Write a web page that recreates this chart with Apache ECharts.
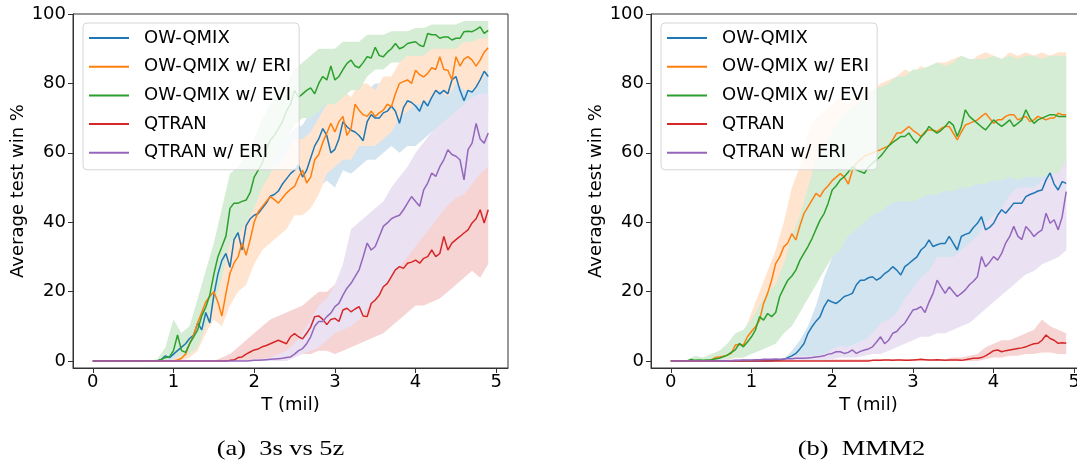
<!DOCTYPE html>
<html>
<head>
<meta charset="utf-8">
<title>Average test win %</title>
<script src="https://cdn.jsdelivr.net/npm/echarts@6.0.0/dist/echarts.min.js"></script>
<style>
  html, body { margin: 0; padding: 0; background: #fff; }
  #chart { width: 1077px; height: 465px; }
</style>
</head>
<body>
<div id="chart"></div>
<script>
(function () {
  var NAMES = ['OW-QMIX', 'OW-QMIX w/ ERI', 'OW-QMIX w/ EVI', 'QTRAN', 'QTRAN w/ ERI'];
  var COLORS = ['#1f77b4', '#ff7f0e', '#2ca02c', '#d62728', '#9467bd'];
  // same hues at 20% on white, painted opaque so later bands cover earlier ones
  var BAND_COLORS = ['#d2e4f0', '#ffe5cf', '#d5ecd5', '#f7d4d4', '#eae1f2'];
  var X_TICKS = [0, 1, 2, 3, 4, 5];
  var Y_TICKS = [0, 20, 40, 60, 80, 100];
  var CAPTIONS = ['(a)  3s vs 5z', '(b)  MMM2'];

  // T (mil) sample grids: means every 0.05, shaded bands every 0.1
  var tMean = [];
  var tBand = [];
  for (var i = 0; i < 99; i++) tMean.push(+(i * 0.05).toFixed(2));
  for (var j = 0; j < 50; j++) tBand.push(+(j * 0.1).toFixed(1));

  // (a) 3s vs 5z
  var a_owqmix = [
    0, 0, 0, 0, 0, 0, 0, 0, 0, 0,
    0, 0, 0, 0, 0, 0, 0, 0.5, 1.5, 1.0,
    2, 3, 4, 5, 6.5, 7.5, 11, 9, 14, 11,
    19, 25, 29, 31, 27, 35, 37, 32, 39, 41,
    42, 42.5, 44, 45.5, 47.5, 48, 49, 51, 52.5, 54,
    55, 56.5, 53, 55, 58.5, 62, 64, 67, 65, 60,
    61, 64, 69, 67.5, 66.5, 66, 65, 63.5, 69, 71,
    70, 70, 71.5, 72, 73.5, 72, 68.5, 73, 75, 74.5,
    73.5, 72, 75, 73.5, 76, 78, 77, 78, 77, 81,
    82, 78, 75, 78, 77.5, 79, 81, 83.5, 82
  ];
  var a_owqmixEri = [
    0, 0, 0, 0, 0, 0, 0, 0, 0, 0,
    0, 0, 0, 0, 0, 0, 0, 0, 0, 0,
    0, 0.3, 0.8, 2, 5, 7.5, 11, 14, 17, 18.6,
    20, 17, 13, 19.5, 25.3, 28.2, 30, 34, 30.5, 35,
    40, 43, 44.5, 46, 47.4, 46.5, 45.5, 47, 48.4, 49.5,
    50.3, 53, 55, 51.3, 53, 58, 59.5, 63, 65.7, 68.5,
    66, 69, 70.5, 65, 67, 74, 72.3, 71, 70.5, 72,
    70.5, 71.5, 72.3, 74, 73.3, 77, 80, 80.5, 81, 80,
    83.8, 82.5, 81.9, 82.9, 84.5, 84, 87.7, 84, 83.8, 81,
    87.7, 85, 87, 87.7, 86.7, 85, 86.7, 89, 90.3
  ];
  var a_owqmixEvi = [
    0, 0, 0, 0, 0, 0, 0, 0, 0, 0,
    0, 0, 0, 0, 0, 0, 0, 0.5, 1, 1.2,
    3, 7.5, 3, 2.5, 5, 7, 9, 13, 15.5, 19,
    25, 30, 33, 36, 44, 45.5, 45.5, 46, 46.4, 48.5,
    53, 55, 57, 61, 63.7, 65, 67, 69, 72, 74,
    78, 76, 77, 78, 78.7, 77, 80, 82, 81, 85,
    81, 82, 84, 85.8, 86.7, 85, 84.5, 86, 87.7, 87.3,
    90.4, 88, 87.7, 89, 90, 91.5, 90, 90.5, 91.5, 91.8,
    92, 91, 90.6, 94.4, 94, 94, 93, 93.4, 93.4, 92.5,
    93, 93, 94.9, 95, 94.9, 95.5, 96.3, 94.4, 95.3
  ];
  var a_qtran = [
    0, 0, 0, 0, 0, 0, 0, 0, 0, 0,
    0, 0, 0, 0, 0, 0, 0, 0, 0, 0,
    0, 0, 0, 0, 0, 0, 0, 0, 0, 0,
    0, 0, 0, 0, 0.2, 0.3, 1, 1.2, 2, 2.6,
    3.2, 3.5, 4.1, 4.5, 5, 5.5, 6, 5.5, 5, 7,
    7.9, 7, 6.4, 8, 9.8, 12.8, 13, 12, 10.5, 12,
    12.3, 11.4, 14.7, 15.2, 14.2, 15, 15.7, 13, 12.8, 16.6,
    17.6, 19, 21.4, 22.4, 24.3, 26.3, 27.2, 26.7, 28.2, 28.5,
    29.1, 28.2, 29.6, 30.1, 32, 30.1, 31, 35.9, 32, 34,
    35, 35.9, 36.9, 37.8, 39.8, 41, 43.6, 39.8, 43.6
  ];
  var a_qtranEri = [
    0, 0, 0, 0, 0, 0, 0, 0, 0, 0,
    0, 0, 0, 0, 0, 0, 0, 0, 0, 0,
    0, 0, 0, 0, 0, 0, 0, 0, 0, 0,
    0, 0, 0, 0, 0, 0, 0, 0, 0, 0.1,
    0.2, 0.2, 0.3, 0.4, 0.5, 0.6, 0.7, 0.8, 1, 1.2,
    2, 3, 3.6, 5, 7, 10, 11.4, 11.4, 12.8, 13.8,
    15.7, 16.6, 19, 21, 22.4, 24.3, 26.3, 30, 34, 32,
    33, 35.9, 38.8, 39.8, 41, 41.6, 42, 43.6, 45.5, 47.4,
    46, 44.6, 49.3, 51.3, 54.2, 53.2, 56, 58, 60.9, 59.5,
    59, 58, 52.2, 60.9, 62.8, 68.5, 64, 62.8, 65.7
  ];

  var a_owqmixLo = [
    0, 0, 0, 0, 0, 0, 0, 0, 0, 0,
    0, 1, 3, 5, 8, 14, 20, 24, 28, 32,
    36, 38, 40, 42, 44, 46, 45, 48, 50, 52,
    50, 55, 54, 56, 58, 58, 60, 62, 60, 62,
    62, 64, 66, 64, 66, 68, 64, 66, 70, 72
  ];
  var a_owqmixHi = [
    0, 0, 0, 0, 0, 0, 0, 0, 0.5, 2,
    5, 8, 10, 14, 18, 28, 34, 40, 44, 48,
    50, 54, 56, 60, 64, 67, 68, 72, 74, 76,
    76, 78, 76, 76, 78, 80, 80, 82, 80, 84,
    82, 84, 86, 86, 88, 90, 86, 88, 90, 90
  ];
  var a_owqmixEriLo = [
    0, 0, 0, 0, 0, 0, 0, 0, 0, 0,
    0, 0, 1, 3, 8, 12, 10, 16, 20, 22,
    28, 32, 34, 36, 38, 42, 42, 44, 48, 54,
    56, 58, 58, 62, 62, 62, 64, 66, 70, 72,
    74, 74, 76, 78, 76, 80, 78, 78, 80, 84
  ];
  var a_owqmixEriHi = [
    0, 0, 0, 0, 0, 0, 0, 0, 0, 0,
    0.5, 2, 6, 12, 20, 26, 28, 36, 40, 42,
    46, 52, 56, 56, 60, 64, 64, 66, 70, 74,
    76, 78, 76, 80, 80, 78, 82, 82, 86, 88,
    90, 90, 90, 92, 90, 94, 94, 92, 94, 96
  ];
  var a_owqmixEviLo = [
    0, 0, 0, 0, 0, 0, 0, 0, 0, 0,
    2, 1, 2, 4, 10, 16, 24, 34, 36, 40,
    44, 50, 54, 60, 64, 68, 70, 70, 72, 74,
    74, 76, 78, 78, 82, 84, 84, 86, 86, 88,
    88, 88, 90, 90, 90, 90, 92, 92, 93, 93
  ];
  var a_owqmixEviHi = [
    0, 0, 0, 0, 0, 0, 0, 0, 0.5, 4,
    12, 8, 10, 18, 26, 34, 44, 54, 56, 60,
    64, 70, 74, 78, 80, 84, 86, 88, 90, 90,
    90, 92, 92, 92, 94, 94, 94, 95, 95, 95,
    96, 96, 97, 97, 97, 97, 98, 98, 98, 98
  ];
  var a_qtranLo = [
    0, 0, 0, 0, 0, 0, 0, 0, 0, 0,
    0, 0, 0, 0, 0, 0, 0, 0, 0, 0,
    0, 0, 1, 1, 1, 2, 2, 2, 3, 3,
    2, 3, 4, 5, 6, 7, 8, 10, 12, 14,
    16, 16, 17, 18, 20, 22, 24, 26, 24, 28
  ];
  var a_qtranHi = [
    0, 0, 0, 0, 0, 0, 0, 0, 0, 0,
    0, 0, 0, 0, 0, 0, 1, 2, 4, 6,
    8, 10, 12, 13, 14, 15, 16, 18, 20, 20,
    22, 26, 28, 30, 32, 36, 36, 38, 40, 40,
    42, 44, 46, 46, 48, 50, 52, 54, 56, 58
  ];
  var a_qtranEriLo = [
    0, 0, 0, 0, 0, 0, 0, 0, 0, 0,
    0, 0, 0, 0, 0, 0, 0, 0, 0, 0,
    0, 0, 0, 0, 0, 1, 2, 3, 4, 6,
    8, 9, 10, 12, 15, 18, 21, 24, 27, 30,
    33, 36, 39, 42, 45, 47, 48, 51, 54, 56
  ];
  var a_qtranEriHi = [
    0, 0, 0, 0, 0, 0, 0, 0, 0, 0,
    0, 0, 0, 0, 0, 0, 0, 0, 0, 0,
    0.5, 0.5, 1, 2, 3, 5, 8, 12, 16, 18,
    22, 28, 38, 40, 42, 44, 46, 50, 53, 56,
    60, 63, 66, 68, 70, 72, 74, 76, 77, 77
  ];

  // (b) MMM2
  var b_owqmix = [
    0, 0, 0, 0, 0, 0, 0, 0, 0, 0,
    0, 0, 0, 0, 0, 0, 0, 0, 0, 0,
    0, 0, 0, 0, 0, 0.1, 0.2, 0.3, 0.5, 1,
    1.5, 2.2, 3.5, 5, 8, 9.9, 11.5, 12.8, 15.7, 17.6,
    17, 16.6, 17.5, 18.6, 19, 19.5, 22, 23.3, 23.3, 24,
    24.3, 23.3, 24, 25.2, 26, 27.2, 26.2, 24.8, 27.2, 28.1,
    29.1, 30, 32, 33, 34.9, 33, 33.5, 33.9, 33.9, 35.9,
    34, 32, 35.9, 36.5, 36.9, 38.5, 39.7, 41.6, 37.8, 38.5,
    39.7, 42, 43.6, 42.6, 44, 45.5, 45.5, 45.5, 47.4, 48,
    48.4, 49, 49.3, 52.2, 54.2, 51, 49.3, 51.7, 51.2
  ];
  var b_owqmixEri = [
    0, 0, 0, 0, 0, 0, 0, 0, 0, 0,
    0.3, 1, 1.2, 1.4, 1.7, 2.2, 4.6, 4.8, 4.6, 7,
    8.5, 9.9, 11.8, 16.6, 19.5, 23.3, 28.1, 30, 32.9, 34,
    36.7, 34.9, 39, 42.5, 44.4, 46.4, 48.3, 47.4, 49.3, 50.5,
    52, 53, 54, 53, 51, 55, 57, 58, 59, 59.5,
    60, 60.5, 60.9, 61.5, 62, 63.7, 65.7, 65.7, 66.6, 67.6,
    66.5, 65.7, 64.7, 66.1, 66.6, 66.6, 66.1, 67, 67.6, 67.6,
    65.7, 63.7, 66, 68, 68.5, 69, 69.5, 70.5, 71.4, 70,
    68.5, 69.5, 69.5, 70.5, 71, 71, 69.5, 70, 70.5, 69,
    69.5, 70.5, 70, 69.5, 70, 70, 71.4, 71, 71
  ];
  var b_owqmixEvi = [
    0, 0, 0, 0, 0, 0.5, 0.2, 0.3, 0.2, 0.3,
    0.4, 0.6, 0.8, 1.2, 1.7, 2.5, 3.2, 5.1, 4.1, 5.5,
    7, 9, 12.8, 11.8, 13.7, 12.8, 14, 18.6, 21, 23.3,
    24.5, 26.2, 29, 31, 33, 35.3, 38, 40.6, 42.5, 45.5,
    49.3, 50.5, 52.2, 53.1, 54.5, 56, 55.1, 54.6, 54.1, 56,
    57, 58, 59, 60.5, 62, 63, 63.8, 64.7, 64.7, 65.7,
    64, 62.8, 64.5, 65.7, 67.6, 66.5, 65.7, 66.5, 67.6, 69,
    68, 64.7, 67.6, 72.4, 70.5, 69.5, 68.5, 67.5, 66.6, 68,
    69.5, 68.5, 67.6, 68.5, 69.5, 67.6, 68.5, 69.5, 72.4, 70,
    68.5, 69.5, 70, 70.5, 71, 71, 70.5, 70.5, 70.5
  ];
  var b_qtran = [
    0, 0, 0, 0, 0, 0, 0, 0, 0, 0,
    0, 0, 0, 0, 0, 0, 0, 0, 0, 0,
    0, 0, 0, 0, 0, 0, 0, 0, 0, 0,
    0, 0, 0, 0, 0, 0, 0, 0, 0, 0,
    0, 0, 0, 0, 0, 0, 0, 0, 0, 0,
    0.2, 0.2, 0.2, 0.3, 0.3, 0.2, 0.3, 0.3, 0.2, 0.2,
    0.3, 0.4, 0.5, 0.4, 0.3, 0.3, 0.4, 0.3, 0.2, 0.3,
    0.3, 0.3, 0.2, 0.4, 0.6, 0.8, 0.8, 1, 1.5, 2.2,
    3, 3.2, 2.7, 3, 3.2, 3.4, 3.6, 3.8, 4.1, 4.6,
    5, 5.1, 6, 7.5, 6.5, 6, 5.1, 5.3, 5.1
  ];
  var b_qtranEri = [
    0, 0, 0, 0, 0, 0, 0, 0, 0, 0,
    0, 0, 0, 0, 0.1, 0.1, 0.2, 0.2, 0.3, 0.3,
    0.3, 0.4, 0.4, 0.5, 0.5, 0.5, 0.6, 0.5, 0.6, 0.7,
    0.7, 0.8, 0.8, 0.8, 0.9, 1, 1.2, 1.3, 1.5, 2,
    2.2, 2.7, 2.7, 2.2, 2.5, 3.2, 2.2, 2.8, 3.2, 3.5,
    4.1, 5.5, 7, 5, 6, 8, 8.5, 9.9, 10.9, 12.8,
    14.7, 15, 15.7, 14, 17, 19.5, 23.3, 21.4, 19.5, 21.4,
    20, 18.6, 19.5, 20.5, 22, 23, 24.3, 30.1, 27.2, 28.5,
    30.1, 29.1, 31, 34, 35.9, 38.8, 36, 35, 38.8, 37.5,
    35.9, 37, 37.8, 42.6, 39.7, 40.7, 37.8, 41.6, 48.8
  ];

  var b_owqmixLo = [
    0, 0, 0, 0, 0, 0, 0, 0, 0, 0,
    0, 0, 0, 0, 0, 0, 0, 0, 0, 0,
    2, 3, 4, 5, 6, 7, 8, 10, 10, 11,
    12, 13, 14, 14, 15, 15, 16, 17, 18, 19,
    20, 21, 22, 24, 25, 26, 28, 29, 30, 32
  ];
  var b_owqmixHi = [
    0, 0, 0, 0, 0, 0, 0, 0, 0, 0,
    0, 0, 0, 0, 0.5, 3, 6, 10, 16, 24,
    30, 34, 38, 40, 42, 44, 44, 46, 46, 47,
    47, 48, 50, 50, 51, 52, 52, 53, 54, 54,
    55, 55, 56, 57, 57, 58, 60, 62, 62, 62
  ];
  var b_owqmixEriLo = [
    0, 0, 0, 0, 0, 0, 0, 0, 1, 1,
    3, 4, 7, 10, 13, 15, 17, 22, 28, 32,
    36, 38, 38, 40, 42, 44, 44, 46, 46, 47,
    48, 48, 49, 50, 49, 50, 51, 50, 52, 52,
    52, 53, 53, 54, 53, 54, 53, 54, 55, 55
  ];
  var b_owqmixEriHi = [
    0, 0, 0, 0, 0, 1, 3, 4, 7, 8,
    14, 20, 26, 32, 40, 50, 56, 66, 70, 72,
    74, 76, 74, 76, 78, 78, 80, 81, 82, 84,
    83, 85, 84, 86, 86, 87, 88, 86, 88, 89,
    88, 87, 89, 88, 89, 88, 89, 88, 89, 89
  ];
  var b_owqmixEviLo = [
    0, 0, 0, 0, 0, 0, 0, 0.5, 1, 1,
    2, 3, 4, 5, 8, 10, 14, 18, 22, 26,
    30, 32, 36, 38, 40, 42, 43, 45, 46, 46,
    46, 47, 48, 48, 49, 49, 50, 50, 51, 51,
    52, 52, 53, 52, 53, 53, 53, 54, 54, 54
  ];
  var b_owqmixEviHi = [
    0, 0, 0, 1.5, 1, 2, 3, 5, 8, 9,
    12, 16, 20, 22, 28, 36, 42, 50, 58, 62,
    66, 70, 72, 74, 76, 78, 79, 80, 82, 82,
    84, 84, 85, 86, 85, 86, 88, 87, 87, 87,
    88, 87, 88, 87, 88, 88, 87, 88, 88, 88
  ];
  var b_qtranLo = [
    0, 0, 0, 0, 0, 0, 0, 0, 0, 0,
    0, 0, 0, 0, 0, 0, 0, 0, 0, 0,
    0, 0, 0, 0, 0, 0, 0, 0, 0, 0,
    0, 0, 0, 0, 0, 0, 0, 0, 0, 0.5,
    1, 1, 1.5, 1.5, 2, 2, 2.5, 2.5, 2, 2
  ];
  var b_qtranHi = [
    0, 0, 0, 0, 0, 0, 0, 0, 0, 0,
    0, 0, 0, 0, 0, 0, 0, 0, 0, 0,
    0.5, 0.5, 0.5, 0.5, 0.5, 0.5, 0.5, 0.5, 0.5, 0.5,
    0.5, 0.5, 0.5, 0.5, 0.5, 1, 1, 1.5, 2, 4,
    5, 6, 6, 7, 8, 9, 12, 10, 9, 8
  ];
  var b_qtranEriLo = [
    0, 0, 0, 0, 0, 0, 0, 0, 0, 0,
    0, 0, 0, 0, 0, 0, 0, 0, 0, 0,
    0.5, 1, 1, 1, 1.5, 2, 2, 3, 4, 5,
    6, 7, 7, 8, 8, 9, 10, 11, 13, 15,
    17, 19, 21, 23, 25, 26, 28, 29, 30, 32
  ];
  var b_qtranEriHi = [
    0, 0, 0, 0, 0, 0.5, 0.5, 0.5, 0.5, 0.5,
    0.5, 0.5, 0.5, 0.5, 0.5, 1.5, 1.5, 1.5, 1.5, 2,
    3.5, 4.5, 4, 5, 6, 8, 11, 12, 14, 18,
    21, 24, 26, 30, 30, 30, 32, 34, 36, 40,
    42, 44, 48, 50, 50, 50, 52, 54, 54, 58
  ];

  var panels = [
    {
      means: [a_owqmix, a_owqmixEri, a_owqmixEvi, a_qtran, a_qtranEri],
      lows: [a_owqmixLo, a_owqmixEriLo, a_owqmixEviLo, a_qtranLo, a_qtranEriLo],
      highs: [a_owqmixHi, a_owqmixEriHi, a_owqmixEviHi, a_qtranHi, a_qtranEriHi],
    },
    {
      means: [b_owqmix, b_owqmixEri, b_owqmixEvi, b_qtran, b_qtranEri],
      lows: [b_owqmixLo, b_owqmixEriLo, b_owqmixEviLo, b_qtranLo, b_qtranEriLo],
      highs: [b_owqmixHi, b_owqmixEriHi, b_owqmixEviHi, b_qtranHi, b_qtranEriHi],
    },
  ];

  var FONT = 'DejaVu Sans';
  var GRID_LEFT = [73, 651];
  var LEGEND_LEFT = [83, 661];

  function zip(xs, ys) {
    return xs.map(function (x, k) {
      return [x, ys[k]];
    });
  }

  // one polygon per band: upper edge left to right, lower edge back
  function bandRenderer(lo, hi, color) {
    return function (params, api) {
      var pts = [];
      for (var k = 0; k < tBand.length; k++) pts.push(api.coord([tBand[k], hi[k]]));
      for (var m = tBand.length - 1; m >= 0; m--) pts.push(api.coord([tBand[m], lo[m]]));
      return {
        type: 'polygon',
        shape: { points: pts },
        style: { fill: color },
        silent: true,
      };
    };
  }

  var grids = [];
  var xAxes = [];
  var yAxes = [];
  var legends = [];
  var series = [];
  var graphics = [];

  panels.forEach(function (panel, p) {
    grids.push({
      left: GRID_LEFT[p],
      top: 14,
      width: 435,
      height: 354,
      outerBoundsMode: 'none',
      containLabel: false,
      show: true,
      borderColor: '#333',
      borderWidth: 1,
      backgroundColor: '#fff',
    });
    xAxes.push({
      type: 'value',
      gridIndex: p,
      min: -0.245,
      max: 5.145,
      name: 'T (mil)',
      nameLocation: 'middle',
      nameGap: 23,
      nameTextStyle: { fontFamily: FONT, fontSize: 18, color: '#000' },
      axisLine: { show: true, onZero: false, lineStyle: { color: '#333', width: 1 } },
      axisTick: { show: true, inside: false, length: 5, customValues: X_TICKS, lineStyle: { color: '#333' } },
      axisLabel: { fontFamily: FONT, fontSize: 18, color: '#000', margin: 5, customValues: X_TICKS },
      splitLine: { show: false },
    });
    yAxes.push({
      type: 'value',
      gridIndex: p,
      min: -2,
      max: 100,
      name: 'Average test win %',
      nameLocation: 'middle',
      nameGap: 41,
      nameTextStyle: { fontFamily: FONT, fontSize: 18, color: '#000' },
      axisLine: { show: true, onZero: false, lineStyle: { color: '#333', width: 1 } },
      axisTick: { show: true, inside: false, length: 5, customValues: Y_TICKS, lineStyle: { color: '#333' } },
      axisLabel: { fontFamily: FONT, fontSize: 18, color: '#000', margin: 7, customValues: Y_TICKS },
      splitLine: { show: false },
    });
    legends.push({
      show: true,
      orient: 'vertical',
      left: LEGEND_LEFT[p],
      top: 23,
      data: NAMES,
      icon: 'rect',
      itemWidth: 40,
      itemHeight: 2,
      itemGap: 8.7,
      padding: [5, 8, 7, 6],
      backgroundColor: 'rgba(255,255,255,0.8)',
      borderColor: '#d6d6d6',
      borderWidth: 1,
      borderRadius: 4,
      selectedMode: false,
      textStyle: {
        fontFamily: FONT,
        fontSize: 18,
        color: '#000',
        lineHeight: 20,
        padding: [0, 0, 0, 10],
      },
    });

    NAMES.forEach(function (name, s) {
      var lo = panel.lows[s];
      var hi = panel.highs[s];
      series.push({
        name: 'band-' + p + '-' + s,
        type: 'custom',
        xAxisIndex: p,
        yAxisIndex: p,
        data: [[tBand[0], lo[0]]],
        renderItem: bandRenderer(lo, hi, BAND_COLORS[s]),
        silent: true,
        z: 1,
      });
    });

    NAMES.forEach(function (name, s) {
      series.push({
        name: name,
        type: 'line',
        xAxisIndex: p,
        yAxisIndex: p,
        data: zip(tMean, panel.means[s]),
        symbol: 'none',
        showSymbol: false,
        lineStyle: { color: COLORS[s], width: 1.5 },
        itemStyle: { color: COLORS[s] },
        silent: true,
        z: 2,
      });
    });

    graphics.push({
      type: 'text',
      x: GRID_LEFT[p] + 435 / 2 - 10 + p * 3,
      y: 449,
      scaleX: 1.2,
      style: {
        text: CAPTIONS[p],
        font: '22px "Liberation Serif"',
        fill: '#000',
        textAlign: 'center',
        textVerticalAlign: 'middle',
      },
    });
  });

  var chart = echarts.init(document.getElementById('chart'), null, { renderer: 'canvas' });
  chart.setOption({
    animation: false,
    backgroundColor: '#fff',
    grid: grids,
    xAxis: xAxes,
    yAxis: yAxes,
    legend: legends,
    series: series,
    graphic: graphics,
  });
})();
</script>
</body>
</html>
